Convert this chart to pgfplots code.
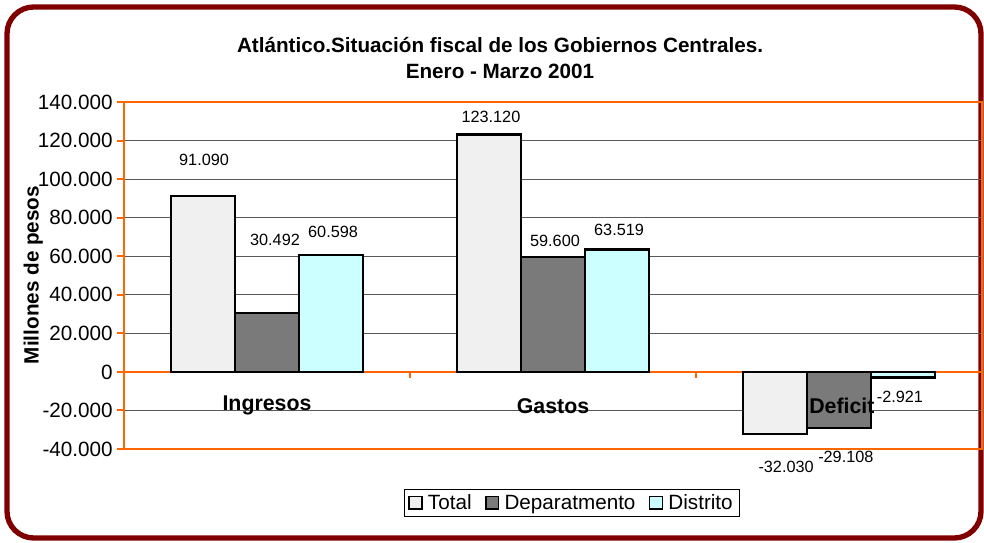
\documentclass[border=0pt]{standalone}
\usepackage{pgfplots}
\pgfplotsset{compat=1.18}
\usepackage{fontspec}
\setmainfont{Liberation Sans}
\definecolor{framec}{HTML}{800000}
\definecolor{axor}{HTML}{FF6600}
\definecolor{cyanb}{HTML}{CCFFFF}
\begin{document}
\begin{tikzpicture}
\useasboundingbox (0pt,0pt) rectangle (738pt,406.5pt);
\clip (0pt,0pt) rectangle (738pt,406.5pt);
\fill[white] (0pt,0pt) rectangle (738pt,406.5pt);
\draw[framec, line width=4pt, rounded corners=20pt] (5.25pt,3pt) rectangle (735.75pt,401.25pt);
\node[font=\fontsize{15.5}{20}\bfseries\selectfont, align=center] at (375pt,363pt) {Atlántico.Situación fiscal de los Gobiernos Centrales.\\Enero - Marzo 2001};
\node[rotate=90, font=\fontsize{15.5}{17}\bfseries\selectfont] at (25pt,200.25pt) {Millones de pesos};
\begin{axis}[at={(93pt,69.75pt)}, anchor=south west, scale only axis,
  width=643.5pt, height=260.25pt,
  clip=false,
  xmin=-0.5, xmax=2.5, ymin=-40000, ymax=140000,
  ytick={-40000,-20000,...,140000}, xtick=\empty,
  scaled y ticks=false,
  ytick pos=left,
  ymajorgrids, grid style={black!65, line width=0.6pt},
  axis line style={axor, line width=1.5pt},
  ytick style={axor, line width=1.5pt},
  tick align=outside, major tick length=5pt,
  yticklabel style={font=\fontsize{15.5}{17}\selectfont},
  extra y ticks={0}, extra y tick labels={},
  extra y tick style={grid style={axor, line width=1.5pt}},
  /pgf/number format/1000 sep={.},
  /pgf/number format/fixed,
  /pgf/number format/assume math mode=true,
  ybar=0pt, bar width=48pt,
  legend columns=-1,
  legend style={at={(0.522,-0.156)}, anchor=center, draw=black, line width=0.8pt,
    font=\fontsize{15.5}{17}\selectfont,
    /tikz/every odd column/.append style={column sep=2pt},
    /tikz/every even column/.append style={column sep=8pt}},
  legend image code/.code={\draw[#1, line width=1.2pt] (0pt,-4.5pt) rectangle (9.5pt,5pt);},
]
\addplot[fill=black!6, draw=black, line width=1.7pt] coordinates {(0,91090) (1,123120) (2,-32030)};
\addplot[fill=black!52, draw=black, line width=1.7pt] coordinates {(0,30492) (1,59600) (2,-29108)};
\addplot[fill=cyanb, draw=black, line width=1.7pt] coordinates {(0,60598) (1,63519) (2,-2921)};
\legend{Total, Deparatmento, Distrito}
\draw[axor, line width=1.5pt] (axis cs:0.5,0) -- ([yshift=-4.5pt]axis cs:0.5,0);
\draw[axor, line width=1.5pt] (axis cs:1.5,0) -- ([yshift=-4.5pt]axis cs:1.5,0);
\begin{scope}[every node/.style={font=\fontsize{12.2}{14}\selectfont}]
\node at (axis cs:-0.22,110000) {91.090};
\node at (axis cs:0.028,68400) {30.492};
\node at (axis cs:0.231,72500) {60.598};
\node at (axis cs:0.783,132100) {123.120};
\node at (axis cs:1.007,67900) {59.600};
\node at (axis cs:1.231,73600) {63.519};
\node at (axis cs:1.815,-49200) {-32.030};
\node at (axis cs:2.024,-44000) {-29.108};
\node at (axis cs:2.213,-12950) {-2.921};
\end{scope}
\begin{scope}[every node/.style={font=\fontsize{16}{18}\bfseries\selectfont}]
\node at (axis cs:0,-17600) {Ingresos};
\node at (axis cs:1,-17600) {Gastos};
\node at (axis cs:2.01,-17600) {Deficit};
\end{scope}
\end{axis}
\end{tikzpicture}
\end{document}
